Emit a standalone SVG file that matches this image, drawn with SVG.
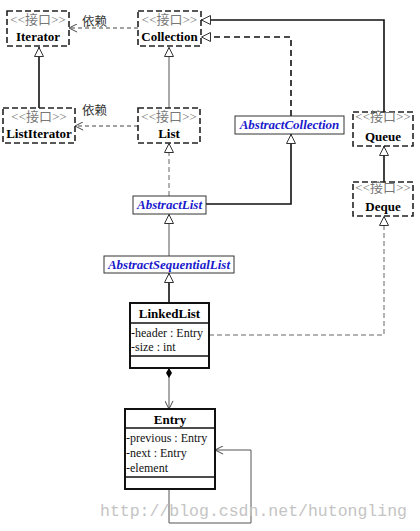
<svg xmlns="http://www.w3.org/2000/svg" width="420" height="531" viewBox="0 0 420 531">
<style>
  .iface { fill: #fff; stroke: #222; stroke-width: 1.6; stroke-dasharray: 6 3; }
  .abs { fill: #fff; stroke: #333; stroke-width: 1; }
  .cls { fill: #fff; stroke: #111; stroke-width: 2; }
  .sep { stroke: #111; stroke-width: 1.5; }
  .st { font-family: "Liberation Serif", "Noto Sans CJK SC", serif; font-size: 13px; fill: #777; text-anchor: middle; }
  .nm { font-family: "Liberation Serif", serif; font-size: 13px; font-weight: bold; fill: #000; text-anchor: middle; }
  .an { font-family: "Liberation Serif", serif; font-size: 13px; font-weight: bold; font-style: italic; fill: #1a1acc; text-anchor: middle; }
  .at { font-family: "Liberation Serif", serif; font-size: 12px; fill: #111; }
  .lbl { font-family: "Noto Sans CJK SC", sans-serif; font-size: 12.5px; fill: #333; }
  .wm { font-family: "Liberation Mono", monospace; font-size: 16.5px; fill: #c4c4c4; }
  .solid { fill: none; stroke: #111; stroke-width: 1.6; }
  .thin { fill: none; stroke: #555; stroke-width: 1; }
  .dep { fill: none; stroke: #444; stroke-width: 1; stroke-dasharray: 4 3; }
  .dash { fill: none; stroke: #111; stroke-width: 1.6; stroke-dasharray: 6 4; }
  .dashg { fill: none; stroke: #666; stroke-width: 1; stroke-dasharray: 5 3; }
</style>
<defs>
  <marker id="tri" viewBox="0 0 10 10" markerWidth="10" markerHeight="10" refX="10" refY="5" orient="auto" markerUnits="userSpaceOnUse">
    <path d="M0.5,0.5 L9.5,5 L0.5,9.5 Z" fill="#fff" stroke="#333" stroke-width="1"/>
  </marker>
  <marker id="open" viewBox="0 0 10 10" markerWidth="9" markerHeight="9" refX="10" refY="5" orient="auto" markerUnits="userSpaceOnUse">
    <path d="M1,0.5 L10,5 L1,9.5" fill="none" stroke="#333" stroke-width="1"/>
  </marker>
  <marker id="dia" viewBox="0 0 10 8" markerWidth="10" markerHeight="8" refX="0" refY="4" orient="auto" markerUnits="userSpaceOnUse">
    <path d="M0,4 L5,1 L10,4 L5,7 Z" fill="#000"/>
  </marker>
</defs>

<g id="connectors">
  <path class="dep" d="M138,28 L69,28" marker-end="url(#open)"/>
  <path class="dep" d="M138,126 L75,126" marker-end="url(#open)"/>
  <path class="solid" d="M39,108 L39,47" marker-end="url(#tri)"/>
  <path class="thin" d="M169,108 L169,47" marker-end="url(#tri)"/>
  <path class="solid" d="M384,112 L384,20 L201,20" marker-end="url(#tri)"/>
  <path class="dash" d="M291,116 L291,37 L201,37" marker-end="url(#tri)"/>
  <path class="dashg" d="M169,196 L169,143" marker-end="url(#tri)"/>
  <path class="solid" d="M206,204 L291,204 L291,134" marker-end="url(#tri)"/>
  <path class="solid" d="M384,182 L384,146" marker-end="url(#tri)"/>
  <path class="thin" d="M169,256 L169,214" marker-end="url(#tri)"/>
  <path class="solid" d="M169,303 L169,273" marker-end="url(#tri)"/>
  <path class="dashg" d="M209,335 L384,335 L384,216" marker-end="url(#tri)"/>
  <path class="thin" d="M169,368 L169,409" stroke="#111" marker-start="url(#dia)" marker-end="url(#open)"/>
  <path class="thin" d="M169,489 L169,523 L251,523 L251,450 L215,450" stroke="#111" marker-end="url(#open)"/>
  <text class="lbl" x="82" y="26">依赖</text>
  <text class="lbl" x="82" y="115">依赖</text>
</g>

<g id="Iterator">
  <rect class="iface" x="7" y="11" width="62" height="35"/>
  <text class="st" x="38" y="24">&lt;&lt;接口&gt;&gt;</text>
  <text class="nm" x="38" y="41">Iterator</text>
</g>
<g id="Collection">
  <rect class="iface" x="138" y="11" width="63" height="35"/>
  <text class="st" x="169.5" y="24">&lt;&lt;接口&gt;&gt;</text>
  <text class="nm" x="169.5" y="41">Collection</text>
</g>
<g id="ListIterator">
  <rect class="iface" x="3" y="108" width="72" height="35"/>
  <text class="st" x="39" y="121">&lt;&lt;接口&gt;&gt;</text>
  <text class="nm" x="39" y="138">ListIterator</text>
</g>
<g id="List">
  <rect class="iface" x="138" y="108" width="62" height="35"/>
  <text class="st" x="169" y="121">&lt;&lt;接口&gt;&gt;</text>
  <text class="nm" x="169" y="138">List</text>
</g>
<g id="Queue">
  <rect class="iface" x="353" y="112" width="60" height="34"/>
  <text class="st" x="383" y="121">&lt;&lt;接口&gt;&gt;</text>
  <text class="nm" x="383" y="141">Queue</text>
</g>
<g id="Deque">
  <rect class="iface" x="353" y="182" width="60" height="34"/>
  <text class="st" x="383" y="192">&lt;&lt;接口&gt;&gt;</text>
  <text class="nm" x="383" y="211">Deque</text>
</g>
<g id="AbstractCollection">
  <rect class="abs" x="235" y="116" width="109" height="18"/>
  <text class="an" x="289.5" y="129">AbstractCollection</text>
</g>
<g id="AbstractList">
  <rect class="abs" x="133" y="196" width="73" height="18"/>
  <text class="an" x="169.5" y="209">AbstractList</text>
</g>
<g id="AbstractSequentialList">
  <rect class="abs" x="104" y="256" width="130" height="17"/>
  <text class="an" x="169" y="269">AbstractSequentialList</text>
</g>
<g id="LinkedList">
  <rect class="cls" x="130" y="303" width="79" height="65"/>
  <line class="sep" x1="130" y1="323" x2="209" y2="323"/>
  <line class="sep" x1="130" y1="356" x2="209" y2="356"/>
  <text class="nm" x="169.5" y="318">LinkedList</text>
  <text class="at" x="131" y="337">-header : Entry</text>
  <text class="at" x="131" y="351">-size : int</text>
</g>
<g id="Entry">
  <rect class="cls" x="125" y="409" width="90" height="80"/>
  <line class="sep" x1="125" y1="428" x2="215" y2="428"/>
  <line class="sep" x1="125" y1="477" x2="215" y2="477"/>
  <text class="nm" x="170" y="424">Entry</text>
  <text class="at" x="126" y="442">-previous : Entry</text>
  <text class="at" x="126" y="457">-next : Entry</text>
  <text class="at" x="126" y="472">-element</text>
</g>
<text class="wm" x="100" y="516">http://blog.csdn.net/hutongling</text>
</svg>
